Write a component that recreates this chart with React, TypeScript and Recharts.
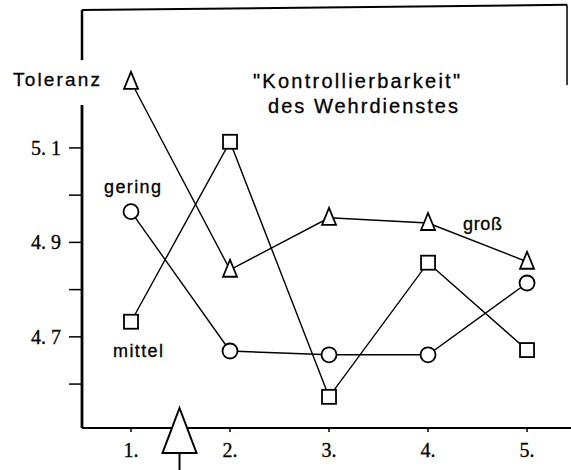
import React from "react";
import {
  Customized,
  Line,
  LineChart,
  ReferenceDot,
  ReferenceLine,
  XAxis,
  YAxis,
} from "recharts";

const categories = [1, 2, 3, 4, 5];
const grossValues = [5.24, 4.842, 4.952, 4.941, 4.859];
const mittelValues = [4.732, 5.113, 4.573, 4.857, 4.672];
const geringValues = [4.965, 4.67, 4.662, 4.662, 4.814];

const yTicks = [4.6, 4.7, 4.8, 4.9, 5.0, 5.1];
const yLabelled = [4.7, 4.9, 5.1];
const xDomain: [number, number] = [0.505, 5.444];
const yDomain: [number, number] = [4.507, 5.392];

const data = categories.map((x, i) => ({
  x,
  gross: grossValues[i],
  mittel: mittelValues[i],
  gering: geringValues[i],
}));

const SANS = "'Liberation Sans', Arial, sans-serif";
const SERIF = "'Liberation Serif', 'Times New Roman', serif";

function TriangleDot(props: any) {
  const { cx, cy, index } = props;
  if (cx == null || cy == null) return null;
  return (
    <path
      key={`t${index}`}
      d={`M${cx},${cy - 10} L${cx + 7},${cy + 7} L${cx - 7},${cy + 7} Z`}
      fill="#fff"
      stroke="#000"
      strokeWidth={1.8}
    />
  );
}

function SquareDot(props: any) {
  const { cx, cy, index } = props;
  if (cx == null || cy == null) return null;
  return (
    <rect
      key={`s${index}`}
      x={cx - 7}
      y={cy - 7}
      width={14}
      height={14}
      fill="#fff"
      stroke="#000"
      strokeWidth={1.8}
    />
  );
}

function CircleDot(props: any) {
  const { cx, cy, index } = props;
  if (cx == null || cy == null) return null;
  return (
    <circle key={`c${index}`} cx={cx} cy={cy} r={7.5} fill="#fff" stroke="#000" strokeWidth={1.8} />
  );
}

function BigArrow(props: any) {
  const { cx, cy } = props;
  return (
    <g>
      <path
        d={`M${cx},${cy - 20} L${cx + 17},${cy + 25} L${cx - 17},${cy + 25} Z`}
        fill="#fff"
        stroke="#000"
        strokeWidth={2}
      />
      <line x1={cx} y1={cy + 25} x2={cx} y2={cy + 45} stroke="#000" strokeWidth={2} />
    </g>
  );
}

function Annotations() {
  const t = {
    fontFamily: SANS,
    fill: "#000",
    stroke: "#000",
    strokeWidth: 0.3,
    lengthAdjust: "spacing",
  } as const;
  return (
    <g>
      <text x={13} y={86} fontSize={19} textLength={87} {...t}>
        Toleranz
      </text>
      <text x={253} y={88} fontSize={20} textLength={207} {...t}>
        "Kontrollierbarkeit"
      </text>
      <text x={268} y={113} fontSize={20} textLength={190} {...t}>
        des Wehrdienstes
      </text>
      <text x={104} y={193} fontSize={18} textLength={57} {...t}>
        gering
      </text>
      <text x={113} y={357} fontSize={18} textLength={50} {...t}>
        mittel
      </text>
      <text x={463} y={230} fontSize={18} textLength={39} {...t}>
        groß
      </text>
    </g>
  );
}

const tickText = {
  fill: "#000",
  fontFamily: SERIF,
  fontSize: 20,
  stroke: "#000",
  strokeWidth: 0.3,
};

export default function App() {
  return (
    <div style={{ position: "absolute", left: 0, top: 0, background: "#fff" }}>
      <LineChart
        width={571}
        height={470}
        data={data}
        margin={{ top: 10, right: 0, bottom: 0, left: 0 }}
      >
        <XAxis
          dataKey="x"
          type="number"
          domain={xDomain}
          allowDataOverflow
          ticks={categories}
          tickFormatter={(v: number) => `${v}.`}
          height={42}
          tickSize={4}
          tickMargin={11}
          axisLine={{ stroke: "#000", strokeWidth: 2.2 }}
          tickLine={{ stroke: "#000", strokeWidth: 1.5 }}
          tick={tickText}
        />
        <YAxis
          type="number"
          domain={yDomain}
          allowDataOverflow
          ticks={yTicks}
          interval={0}
          width={82}
          tickSize={13}
          tickMargin={8}
          axisLine={false}
          tickLine={{ stroke: "#000", strokeWidth: 1.5 }}
          tickFormatter={(v: number) =>
            yLabelled.some((l) => Math.abs(l - v) < 1e-6) ? v.toFixed(1).replace(".", ". ") : ""
          }
          tick={tickText}
        />
        {/* frame: left axis with a gap for the label, top border, short right border */}
        <ReferenceLine
          segment={[
            { x: xDomain[0], y: yDomain[1] },
            { x: xDomain[0], y: 5.286 },
          ]}
          stroke="#000"
          strokeWidth={2.5}
          ifOverflow="visible"
        />
        <ReferenceLine
          segment={[
            { x: xDomain[0], y: 5.191 },
            { x: xDomain[0], y: yDomain[0] },
          ]}
          stroke="#000"
          strokeWidth={2.8}
          ifOverflow="visible"
        />
        <ReferenceLine
          segment={[
            { x: xDomain[0], y: yDomain[1] },
            { x: 5.404, y: 5.403 },
          ]}
          stroke="#000"
          strokeWidth={2}
          ifOverflow="visible"
        />
        <ReferenceLine
          segment={[
            { x: 5.404, y: 5.403 },
            { x: 5.404, y: 5.233 },
          ]}
          stroke="#000"
          strokeWidth={1.5}
          ifOverflow="visible"
        />
        <Line
          dataKey="gross"
          type="linear"
          stroke="#000"
          strokeWidth={1.4}
          dot={TriangleDot}
          activeDot={false}
          isAnimationActive={false}
        />
        <Line
          dataKey="mittel"
          type="linear"
          stroke="#000"
          strokeWidth={1.4}
          dot={SquareDot}
          activeDot={false}
          isAnimationActive={false}
        />
        <Line
          dataKey="gering"
          type="linear"
          stroke="#000"
          strokeWidth={1.4}
          dot={CircleDot}
          activeDot={false}
          isAnimationActive={false}
        />
        <ReferenceDot x={1.49} y={yDomain[0]} ifOverflow="visible" shape={BigArrow} />
        <Customized component={Annotations} />
      </LineChart>
    </div>
  );
}
